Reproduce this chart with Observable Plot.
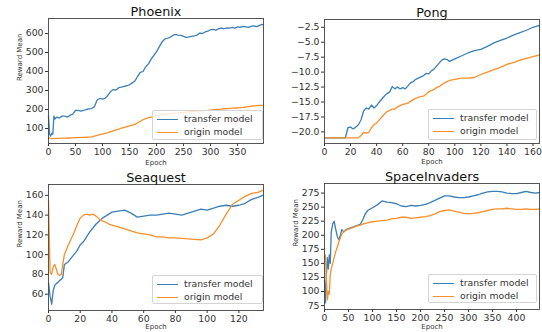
<!DOCTYPE html>
<html><head><meta charset="utf-8">
<script src="https://cdn.jsdelivr.net/npm/d3@7"></script>
<script src="https://cdn.jsdelivr.net/npm/@observablehq/plot@0.6"></script>
<style>
body{margin:0;background:#fff;}
#wrap{position:relative;width:542px;height:332px;overflow:hidden;font-family:"DejaVu Sans",sans-serif;}
.panel{position:absolute;}
.legend{position:absolute;background:rgba(255,255,255,0.8);border:1px solid #d4d4d4;border-radius:2px;font-size:9.3px;color:#333;box-sizing:border-box;}
.legend .row{position:absolute;left:0;height:12px;line-height:12px;white-space:nowrap;}
.legend .sw{position:absolute;left:4px;top:6px;width:21px;height:0;border-top:1.3px solid;}
.legend .lb{position:absolute;left:31px;top:0;}
</style></head>
<body><div id="wrap"></div>
<script>
const seriesNames = ["transfer model", "origin model"];
const seriesColors = ["#3b7fb6", "#f7902a"];

// Phoenix
const phoenixEpochs = [0,2,4,6,8,10,12,15,20,25,30,35,40,45,50,55,60,65,70,75,80,85,90,95,100,105,110,115,120,125,130,135,140,145,150,155,160,165,170,175,180,185,190,195,200,205,210,215,220,225,230,235,240,245,250,255,260,265,270,275,280,285,290,295,300,305,310,315,320,325,330,335,340,345,350,355,360,365,370,375,380,385,390,395,398];
const phoenixTransfer = [165,70,60,75,70,165,150,160,155,165,165,160,170,175,195,195,192,195,200,203,205,215,250,258,255,260,275,295,305,303,315,318,322,325,330,340,350,375,395,400,425,440,465,485,505,530,555,570,575,580,590,595,592,590,585,580,582,585,588,592,602,600,608,612,620,622,618,625,628,625,630,628,632,628,635,632,638,635,632,638,640,636,642,648,646];
const phoenixOrigin = [55,50,48,47,47,47,48,48,48,49,49,50,50,51,52,52,53,53,54,55,56,60,64,68,70,74,78,83,88,93,97,102,106,110,114,118,122,130,138,146,152,157,160,163,166,169,172,174,176,178,180,181,182,184,185,186,188,189,190,191,192,193,194,195,197,199,200,201,202,204,205,206,207,208,208,210,211,213,215,217,219,220,221,222,222];
const phoenixXTicks = [0,50,100,150,200,250,300,350];
const phoenixYTicks = [100,200,300,400,500,600];

// Pong
const pongEpochs = [0,5,10,15,16,18,20,22,24,26,28,30,32,34,36,38,40,42,44,46,48,50,52,54,56,58,60,62,64,66,68,70,72,74,76,78,80,82,84,86,88,90,92,94,96,98,100,105,110,115,120,125,130,135,140,145,150,155,160,165];
const pongTransfer = [-21,-21,-21,-21,-21,-19.3,-19.2,-19.5,-19.2,-18.8,-18,-16.5,-16,-16.2,-15.5,-16,-15.6,-15,-14.5,-14,-13.6,-13.3,-12.4,-12.8,-12.5,-12.8,-12.6,-12.8,-12.3,-11.8,-11.6,-11.2,-11,-10.8,-10.6,-10.2,-10.3,-9.8,-9.5,-9,-8.5,-8,-7.8,-7.9,-8.2,-8,-7.8,-7.3,-6.8,-6.4,-6.2,-5.7,-5.1,-4.7,-4.3,-3.8,-3.4,-3.0,-2.5,-2.2];
const pongOrigin = [-21,-21,-21,-21,-21,-21,-21,-21,-21,-21,-20.6,-20.1,-20.2,-20.1,-19.3,-18.8,-18.5,-18,-17.5,-17,-16.6,-16.4,-16.2,-16.2,-15.8,-15.6,-15.4,-15.3,-15.2,-14.9,-14.6,-14.4,-14.2,-14.1,-14,-13.7,-13.3,-13.1,-12.9,-12.6,-12.4,-12.1,-11.8,-11.6,-11.4,-11.3,-11.2,-11,-11,-10.9,-10.4,-10,-9.6,-9.2,-8.7,-8.4,-8.0,-7.7,-7.4,-7.1];
const pongXTicks = [0,20,40,60,80,100,120,140,160];
const pongYTicks = [-20,-17.5,-15,-12.5,-10,-7.5,-5,-2.5];

// Seaquest
const seaquestEpochs = [0,1,2,3,4,5,6,7,8,9,10,12,14,16,18,20,22,24,26,28,30,32,34,36,38,40,44,48,52,56,60,64,68,72,76,80,84,88,92,96,100,104,108,112,116,120,124,128,132,135];
const seaquestTransfer = [72,58,50,64,69,71,72,74,75,77,90,92,96,100,104,110,113,118,123,127,131,134,137,139,141,143,144,145,142,138,139,140,140,141,142,141,140,142,144,146,145,147,149,150,149,150,152,156,158,160];
const seaquestOrigin = [155,82,80,88,90,85,80,79,80,90,100,108,115,122,130,137,140,141,140,141,139,136,134,133,131,130,128,126,124,122,121,120,118,118,117,117,116.5,116,115.5,115,117,121,130,141,151,155,159,162,163,165];
const seaquestXTicks = [0,20,40,60,80,100,120];
const seaquestYTicks = [60,80,100,120,140,160];

// SpaceInvaders
const spaceEpochs = [0,2,4,6,8,10,12,14,17,20,23,27,30,33,36,40,45,50,60,70,75,80,85,90,100,110,120,130,140,150,160,170,180,190,200,210,220,230,240,250,260,270,280,290,300,310,320,330,340,350,360,370,380,390,400,410,420,430,440,448];
const spaceTransfer = [120,80,130,160,140,165,150,205,220,225,212,197,192,200,210,206,210,212,215,218,220,228,238,244,249,254,261,259,258,256,252,251,253,252,253,255,258,262,266,270,270,268,267,267,268,270,272,275,277,278,278,277,275,274,274,276,278,276,275,276];
const spaceOrigin = [160,165,120,85,100,95,130,140,150,160,170,180,188,195,202,206,209,211,214,217,218,220,221,222,224,225,226,227,229,230,232,232,230,231,232,233,235,238,242,244,245,243,241,239,238,239,240,242,244,246,247,247,248,247,246,246,247,246,246,247];
const spaceXTicks = [0,50,100,150,200,250,300,350,400];
const spaceYTicks = [75,100,125,150,175,200,225,250,275];

const panels = [
  {title:"Phoenix", epochs:phoenixEpochs, series:[phoenixTransfer, phoenixOrigin], xDomain:[0,398], yDomain:[21,679], xTicks:phoenixXTicks, yTicks:phoenixYTicks, fmt:null, left:0, top:0, m:[18,8,23,48], yLabel:true, epochDy:19, legend:[152,110,111,30]},
  {title:"Pong", epochs:pongEpochs, series:[pongTransfer, pongOrigin], xDomain:[0,165], yDomain:[-21.94,-1.2], xTicks:pongXTicks, yTicks:pongYTicks, fmt:d3.format(".1f"), left:271, top:0, m:[19,3,23,53], yLabel:false, epochDy:18, legend:[428,109,109,31]},
  {title:"Seaquest", epochs:seaquestEpochs, series:[seaquestTransfer, seaquestOrigin], xDomain:[0,135.5], yDomain:[43.5,171], xTicks:seaquestXTicks, yTicks:seaquestYTicks, fmt:null, left:0, top:166, m:[18,8,22,48], yLabel:true, epochDy:16.5, legend:[152,275,111,29]},
  {title:"SpaceInvaders", epochs:spaceEpochs, series:[spaceTransfer, spaceOrigin], xDomain:[0,448], yDomain:[68,292], xTicks:spaceXTicks, yTicks:spaceYTicks, fmt:null, left:271, top:166, m:[17,3,23,53], yLabel:true, epochDy:17, legend:[428,274,109,29]}
];

const wrap = document.getElementById("wrap");
for (const p of panels) {
  const lines = p.series.map((vals, i) =>
    Plot.line(p.epochs.map((e, j) => ({epoch: e, value: vals[j]})), {x: "epoch", y: "value", stroke: seriesColors[i], strokeWidth: 1.3})
  );
  const marks = [
    Plot.axisX({ticks: p.xTicks, tickSize: 3, tickPadding: 2, label: null}),
    Plot.axisY({ticks: p.yTicks, tickSize: 3, tickPadding: 2, label: null, tickFormat: p.fmt || undefined}),
    ...lines,
    Plot.frame({stroke: "#444", strokeWidth: 0.9}),
    Plot.text([p.title], {frameAnchor: "top", lineAnchor: "bottom", dy: -3, fontSize: 12.8, fill: "#111"}),
    Plot.text(["Epoch"], {frameAnchor: "bottom", lineAnchor: "middle", dy: p.epochDy, fontSize: 7, fill: "#333"})
  ];
  if (p.yLabel) marks.push(Plot.text(["Reward Mean"], {frameAnchor: "left", rotate: -90, dx: -29, fontSize: 7, fill: "#333"}));
  const svg = Plot.plot({
    width: 271, height: 166,
    marginTop: p.m[0], marginRight: p.m[1], marginBottom: p.m[2], marginLeft: p.m[3],
    style: {fontFamily: "DejaVu Sans", fontSize: "9.3px", color: "#333", background: "transparent", overflow: "visible"},
    x: {domain: p.xDomain},
    y: {domain: p.yDomain},
    marks
  });
  const div = document.createElement("div");
  div.className = "panel";
  div.style.left = p.left + "px";
  div.style.top = p.top + "px";
  div.appendChild(svg);
  wrap.appendChild(div);

  const lg = document.createElement("div");
  lg.className = "legend";
  lg.style.left = p.legend[0] + "px";
  lg.style.top = p.legend[1] + "px";
  lg.style.width = p.legend[2] + "px";
  lg.style.height = p.legend[3] + "px";
  seriesNames.forEach((name, i) => {
    const row = document.createElement("div");
    row.className = "row";
    row.style.top = (2 + i * 13) + "px";
    row.style.width = "100%";
    const sw = document.createElement("span");
    sw.className = "sw";
    sw.style.borderTopColor = seriesColors[i];
    const lb = document.createElement("span");
    lb.className = "lb";
    lb.textContent = name;
    row.appendChild(sw);
    row.appendChild(lb);
    lg.appendChild(row);
  });
  wrap.appendChild(lg);
}
</script></body></html>
